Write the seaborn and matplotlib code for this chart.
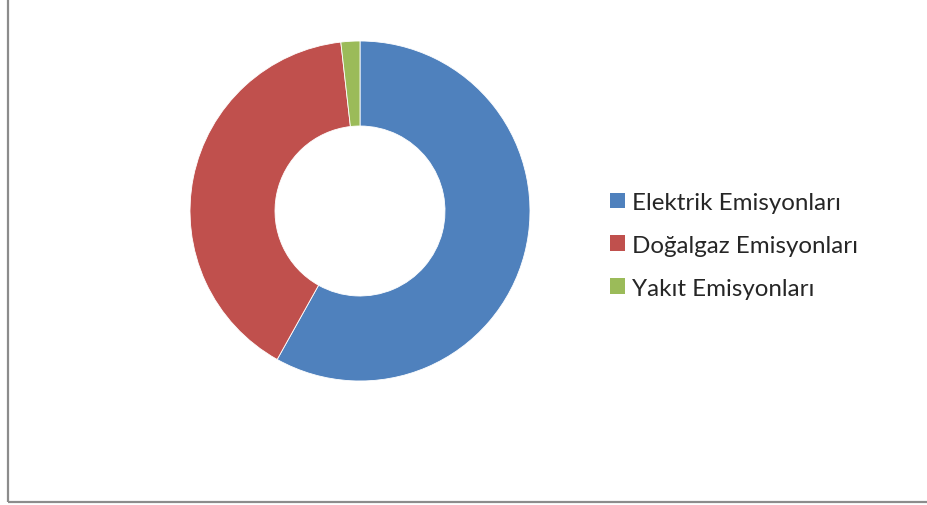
import matplotlib
matplotlib.use("Agg")
import matplotlib.pyplot as plt
import seaborn as sns
from matplotlib.patches import Rectangle, Patch

categories = ["Elektrik Emisyonları", "Doğalgaz Emisyonları", "Yakıt Emisyonları"]
values = [58.1, 40.1, 1.8]
colors = ["#4F81BD", "#C0504D", "#9BBB59"]

sns.set_theme(style="white")
plt.rcParams['font.family'] = ['Lato', 'DejaVu Sans']

W, H = 928, 506
fig = plt.figure(figsize=(W / 100, H / 100), dpi=100)
fig.patch.set_facecolor("white")

# frame border
fig.patches.append(Rectangle((7.5 / W, 1 - 503 / H), 1.2, 1.2, transform=fig.transFigure,
                             fill=False, edgecolor="#8c8c8c", linewidth=1.6))

ax = fig.add_axes([190 / W, 1 - 382 / H, 340 / W, 340 / H])
wedges, _ = ax.pie(values, colors=colors, startangle=90, counterclock=False,
                   radius=1, wedgeprops=dict(width=0.5, edgecolor="white", linewidth=0.6))
ax.set_xlim(-1, 1)
ax.set_ylim(-1, 1)
ax.set_aspect("equal")
ax.axis("off")

handles = [Patch(facecolor=c, edgecolor="none") for c in colors]
fig.legend(handles, categories, loc="upper left", bbox_to_anchor=(610 / W, 1 - 193 / H),
           frameon=False, fontsize=17.4, handlelength=0.62, handleheight=0.62,
           handletextpad=0.3, labelspacing=0.9, borderaxespad=0, borderpad=0)

fig.savefig("out.png", dpi=100, facecolor="white")
